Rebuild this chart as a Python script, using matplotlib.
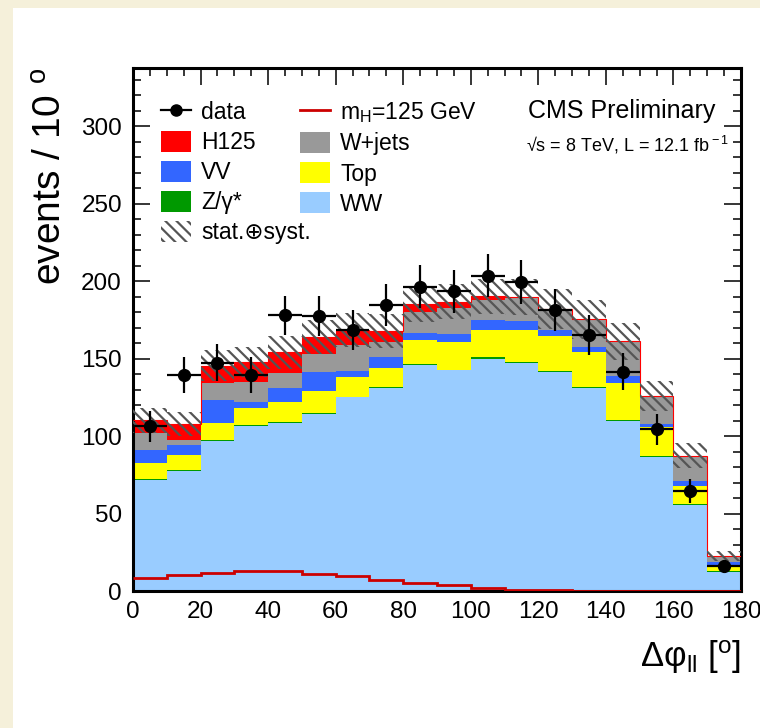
import numpy as np
import matplotlib.pyplot as plt
from matplotlib.patches import Rectangle, Patch
from matplotlib.lines import Line2D
from matplotlib.ticker import MultipleLocator

# bins in delta phi (degrees)
bin_edges = [0, 10, 20, 30, 40, 50, 60, 70, 80, 90, 100, 110, 120, 130, 140, 150, 160, 170, 180]

# stacked backgrounds, bottom to top
ww = [71.5, 77.5, 97.0, 106.5, 108.5, 114.5, 125.0, 131.0, 146.0, 142.5, 150.0, 147.5, 141.7, 131.0, 110.0, 86.5, 55.7, 12.4]
zgamma = [0.7, 0.5, 0.5, 0.5, 0.5, 0.5, 0.5, 0.5, 0.6, 0.5, 0.8, 0.6, 0.6, 0.5, 0.6, 0.4, 0.3, 0.2]
top = [10.3, 9.7, 10.9, 11.0, 13.0, 14.0, 12.5, 12.2, 15.4, 18.0, 17.7, 20.7, 22.5, 22.5, 23.4, 18.7, 11.9, 3.1]
vv = [8.5, 6.3, 15.1, 4.0, 9.0, 12.7, 4.0, 7.3, 4.5, 5.0, 6.5, 5.8, 3.7, 3.7, 5.0, 2.2, 3.1, 3.0]
wjets = [11.0, 3.4, 10.5, 13.0, 10.0, 11.2, 16.8, 9.5, 13.5, 17.0, 13.0, 14.5, 12.9, 17.3, 22.0, 18.2, 16.3, 3.9]
h125 = [8.3, 10.4, 11.5, 12.8, 13.0, 10.9, 9.8, 7.2, 5.2, 3.9, 2.2, 0.8, 0.5, 0.3, 0.2, 0.1, 0.1, 0.05]

# stat+syst uncertainty on the total
unc = [8.0, 8.0, 10.0, 9.5, 10.5, 11.0, 11.0, 11.0, 11.3, 11.5, 11.5, 11.5, 13.0, 12.5, 12.0, 9.7, 8.0, 3.4]

# data
data = [106.5, 139.5, 147.5, 139.5, 178.0, 177.5, 168.5, 184.5, 196.5, 193.5, 203.5, 199.5, 181.5, 165.5, 141.5, 104.5, 64.5, 16.0]
data_err = [10.0, 11.5, 12.0, 11.5, 12.5, 13.0, 13.0, 13.5, 14.0, 14.0, 14.0, 14.0, 13.5, 13.0, 12.0, 10.0, 8.0, 4.0]

layers = [
    ('WW', ww, '#99ccff'),
    ('Z/γ*', zgamma, '#009900'),
    ('Top', top, '#ffff00'),
    ('VV', vv, '#3366ff'),
    ('W+jets', wjets, '#999999'),
    ('H125', h125, '#ff0000'),
]

plt.rcParams['font.family'] = ['Liberation Sans', 'DejaVu Sans']
plt.rcParams['mathtext.fontset'] = 'custom'
plt.rcParams['mathtext.rm'] = 'Liberation Sans'
plt.rcParams['mathtext.it'] = 'Liberation Sans:italic'
plt.rcParams['hatch.linewidth'] = 1.6

fig = plt.figure(figsize=(7.6, 7.28), dpi=100, facecolor='#f5f0da')
fig.patches.append(Rectangle((13 / 760, 0), 1, 1 - 8 / 728, transform=fig.transFigure,
                             facecolor='white', edgecolor='none', zorder=-10))

ax = fig.add_axes([133 / 760, 1 - 591 / 728, 608 / 760, 523.5 / 728])

edges = np.array(bin_edges, dtype=float)
base = np.zeros(len(ww))
for name, vals, col in layers:
    vals = np.array(vals)
    ax.stairs(base + vals, edges, baseline=base, fill=True, color=col, linewidth=0, zorder=2)
    base = base + vals
total = base
ax.stairs(total, edges, baseline=None, color='#ff0000', linewidth=0.8, zorder=3)

# uncertainty band
unc = np.array(unc)
ax.stairs(total + unc, edges, baseline=total - unc, fill=True, facecolor='none',
          edgecolor='#555555', hatch='\\\\\\', linewidth=0, zorder=4)

# signal alone
ax.stairs(h125, edges, baseline=None, color='#cc0000', linewidth=2, zorder=5)

# data points
centers = (edges[:-1] + edges[1:]) / 2
half = (edges[1:] - edges[:-1]) / 2
ax.errorbar(centers, data, yerr=data_err, xerr=half, fmt='o', color='black',
            markersize=8.5, elinewidth=1.6, capsize=0, zorder=6)

ax.set_xlim(0, 180)
ax.set_ylim(0, 338)
ax.xaxis.set_major_locator(MultipleLocator(20))
ax.xaxis.set_minor_locator(MultipleLocator(5))
ax.yaxis.set_major_locator(MultipleLocator(50))
ax.yaxis.set_minor_locator(MultipleLocator(10))
ax.tick_params(which='both', direction='in', top=True, right=True, width=1.1, labelsize=17.5)
ax.tick_params(which='major', length=12)
ax.tick_params(which='minor', length=6)
ax.tick_params(axis='x', pad=7)
ax.tick_params(axis='y', pad=8)
for s in ax.spines.values():
    s.set_linewidth(2.2)

ax.set_ylabel('events / 10 $^{\\rm o}$', fontsize=28, loc='top')
ax.yaxis.set_label_coords(-0.105, 1.0)
ax.set_xlabel('Δφ$_{\\rm ll}$ [$^{\\rm o}$]', fontsize=25, loc='right')
ax.xaxis.set_label_coords(1.0, -0.09)

# legend, two independent columns
leg_kw = dict(frameon=False, fontsize=16.5, handlelength=1.3, handleheight=1.05,
              handletextpad=0.45, labelspacing=0.29, borderpad=0, borderaxespad=0, loc='upper left')
h1 = [Line2D([], [], color='black', marker='o', markersize=8, linewidth=1.6),
      Patch(facecolor='#ff0000'), Patch(facecolor='#3366ff'), Patch(facecolor='#009900'),
      Patch(facecolor='none', edgecolor='#555555', hatch='\\\\\\', linewidth=0)]
l1 = ['data', 'H125', 'VV', 'Z/γ*', 'stat.⊕syst.']
h2 = [Line2D([], [], color='#cc0000', linewidth=2),
      Patch(facecolor='#999999'), Patch(facecolor='#ffff00'), Patch(facecolor='#99ccff')]
l2 = ['m$_{\\rm H}$=125 GeV', 'W+jets', 'Top', 'WW']
leg1 = ax.legend(h1, l1, bbox_to_anchor=(0.046, 0.937), **leg_kw)
ax.add_artist(leg1)
ax.legend(h2, l2, bbox_to_anchor=(0.275, 0.937), **leg_kw)

ax.text(0.958, 0.917, 'CMS Preliminary', transform=ax.transAxes, ha='right', va='center', fontsize=18)
ax.text(0.98, 0.853, '√s = 8 TeV, L = 12.1 fb$^{\\rm -1}$', transform=ax.transAxes,
        ha='right', va='center', fontsize=13)

plt.savefig('out.png', dpi=100, facecolor=fig.get_facecolor())
